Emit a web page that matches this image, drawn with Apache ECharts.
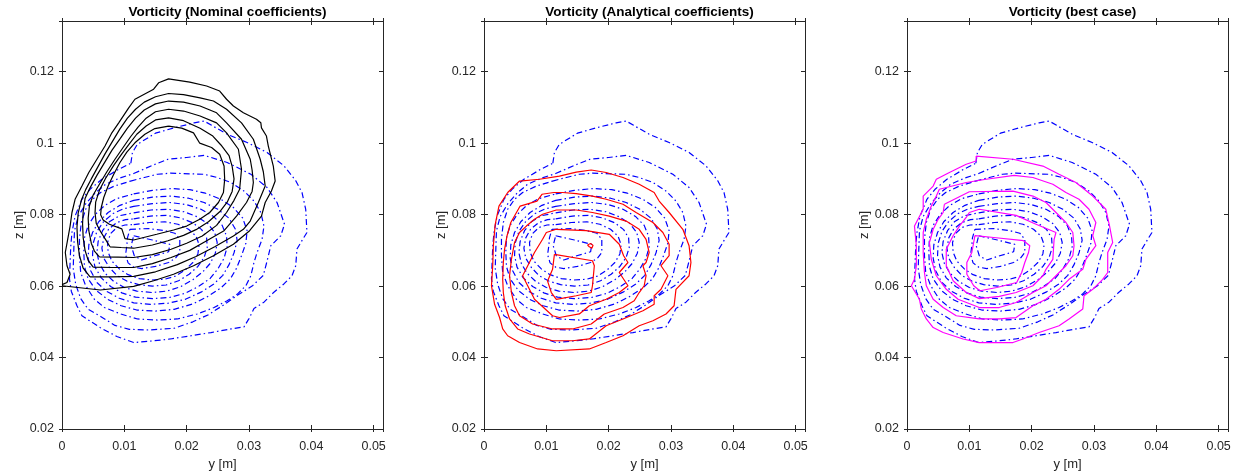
<!DOCTYPE html>
<html>
<head>
<meta charset="utf-8">
<script src="https://cdn.jsdelivr.net/npm/echarts@6/dist/echarts.min.js"></script>
<style>html,body{margin:0;padding:0;background:#fff;}#c{width:1243px;height:476px;}</style>
</head>
<body>
<div id="c"></div>
<script>
// ---- axes / labels ----
const panelTitles = ['Vorticity (Nominal coefficients)', 'Vorticity (Analytical coefficients)', 'Vorticity (best case)'];
const xName = 'y [m]';
const yName = 'z [m]';
const xRange = [0, 0.0515];
const yRange = [0.02, 0.1342];
const xStep = 0.01;
const yStep = 0.02;

// ---- contour lines, values in millimetres: [y, z] ----
// reference field (blue dash-dot, same in every panel), outermost first
const refL1 = [[11.05,94.4],[11.3,97.4],[12.1,99.7],[15.0,102.8],[18.0,104.3],[21.2,105.7],[22.8,106.2],[24.0,105.0],[26.5,102.5],[29.7,100.2],[32.9,97.4],[35.6,93.7],[37.5,89.5],[38.5,86.2],[39.1,81.5],[39.3,75.0],[38.8,73.6],[37.7,70.4],[37.5,65.7],[36.9,62.9],[35.6,60.6],[34.0,58.3],[32.4,55.5],[30.8,53.7],[30.0,50.9],[29.2,48.6],[27.1,48.0],[23.9,47.0],[20.7,46.1],[17.4,45.2],[14.8,44.7],[11.5,44.2],[8.8,45.9],[6.1,48.4],[3.2,51.7],[2.4,54.5],[1.5,58.5],[1.2,62.0],[1.3,66.6],[1.4,71.0],[1.6,75.0],[2.1,79.6],[3.2,84.3],[4.5,87.1],[6.4,89.9],[9.1,92.7],[11.05,94.4]];
const refL2 = [[11.5,91.5],[14.5,93.8],[17.0,95.5],[20.0,96.0],[22.8,96.6],[26.5,94.6],[30.3,91.3],[32.9,87.6],[34.5,83.4],[35.7,77.3],[35.1,74.1],[33.5,71.3],[32.9,67.0],[32.3,63.0],[30.5,60.0],[28.2,57.5],[26.0,54.8],[23.5,52.0],[21.0,50.0],[18.0,48.2],[14.0,47.7],[10.8,47.9],[8.5,49.0],[6.2,51.5],[4.2,53.5],[3.0,56.5],[2.2,60.5],[1.8,65.0],[1.9,70.5],[2.0,75.5],[2.6,79.5],[3.8,83.0],[5.3,86.0],[7.0,88.5],[9.2,90.2],[11.5,91.5]];
const refL3 = [[11.0,89.4],[13.2,90.4],[15.3,91.3],[17.4,91.6],[22.8,91.3],[24.9,90.4],[27.1,89.0],[29.2,86.6],[30.8,83.8],[31.9,80.6],[32.4,76.8],[32.1,73.1],[31.3,69.4],[30.8,66.6],[30.3,62.9],[29.5,60.1],[28.1,57.7],[26.5,55.9],[24.4,54.0],[21.7,52.2],[18.5,50.8],[15.3,50.5],[12.1,50.8],[9.4,52.2],[6.8,54.0],[5.2,56.3],[3.8,60.1],[3.0,63.8],[2.8,68.5],[2.8,73.1],[3.1,77.8],[3.8,81.5],[4.9,84.3],[6.2,86.2],[8.4,88.0],[11.0,89.4]];
const refL4 = [[11.5,85.8],[14.5,86.8],[17.5,87.3],[20.5,87.0],[23.0,86.0],[25.5,84.3],[27.5,82.0],[29.0,79.0],[29.7,75.5],[29.5,72.0],[28.8,68.5],[28.0,65.0],[27.0,62.0],[25.5,59.5],[23.5,57.2],[21.0,55.0],[18.0,53.5],[15.0,53.0],[12.0,53.3],[9.5,54.5],[7.3,56.3],[5.5,58.8],[4.2,62.0],[3.6,65.5],[3.5,69.5],[3.6,73.5],[4.2,77.0],[5.3,80.0],[6.8,82.5],[8.8,84.5],[11.5,85.8]];
const refL5 = [[11.5,84.0],[14.5,84.9],[17.5,85.2],[20.3,84.6],[22.8,83.4],[25.0,81.5],[26.8,79.0],[27.8,76.0],[28.1,72.8],[27.6,69.3],[26.8,66.0],[25.8,63.0],[24.3,60.5],[22.3,58.3],[19.8,56.3],[17.0,55.2],[14.2,54.9],[11.5,55.3],[9.2,56.6],[7.2,58.5],[5.6,61.0],[4.6,64.3],[4.2,67.8],[4.3,71.5],[4.9,75.0],[5.9,78.0],[7.4,80.6],[9.3,82.6],[11.5,84.0]];
const refL6 = [[11.5,82.3],[14.5,83.1],[17.3,83.4],[20.0,82.8],[22.3,81.5],[24.3,79.5],[25.7,77.0],[26.4,74.0],[26.5,71.0],[26.0,67.8],[25.0,64.8],[23.8,62.2],[22.0,60.0],[19.8,58.0],[17.2,56.8],[14.5,56.5],[11.8,56.9],[9.6,58.1],[7.8,59.9],[6.3,62.3],[5.3,65.3],[4.9,68.6],[5.0,72.0],[5.6,75.3],[6.7,78.1],[8.2,80.3],[9.8,81.6],[11.5,82.3]];
const refL7 = [[11.5,80.5],[14.3,81.3],[17.0,81.5],[19.6,80.8],[21.7,79.4],[23.4,77.5],[24.5,75.0],[24.9,72.2],[24.6,69.2],[23.8,66.4],[22.6,64.0],[21.0,61.8],[19.0,59.8],[16.8,58.6],[14.4,58.2],[12.0,58.6],[10.0,59.6],[8.3,61.3],[6.9,63.6],[6.0,66.3],[5.6,69.3],[5.8,72.5],[6.5,75.5],[7.6,78.0],[9.2,79.7],[11.5,80.5]];
const refL8 = [[11.5,78.8],[14.2,79.6],[16.8,79.8],[19.0,79.1],[21.0,77.7],[22.4,75.8],[23.2,73.5],[23.3,70.8],[22.8,68.0],[21.8,65.5],[20.4,63.3],[18.7,61.5],[16.7,60.3],[14.5,60.0],[12.3,60.4],[10.4,61.4],[8.8,63.0],[7.6,65.2],[6.7,67.8],[6.4,70.6],[6.7,73.5],[7.5,76.0],[8.8,77.8],[10.2,78.6],[11.5,78.8]];
const refL9 = [[11.5,77.2],[14.0,77.8],[16.5,78.0],[18.6,77.3],[20.3,75.9],[21.5,74.0],[22.0,71.6],[21.8,69.0],[21.0,66.6],[19.8,64.6],[18.2,62.8],[16.4,61.9],[14.4,61.7],[12.4,62.1],[10.6,63.2],[9.2,64.8],[8.0,67.0],[7.4,69.5],[7.3,72.2],[7.8,74.7],[8.8,76.4],[10.1,77.1],[11.5,77.2]];
const refL10 = [[10.9,75.9],[13.9,76.1],[16.5,75.5],[18.1,74.8],[18.9,73.1],[18.9,69.4],[18.2,67.8],[17.1,66.6],[15.0,65.5],[12.8,64.9],[11.5,65.3],[10.6,66.5],[10.2,68.8],[10.4,71.3],[10.5,73.5],[10.9,75.9]];
const refL11 = [[11.5,74.1],[14.5,72.9],[17.3,71.7],[17.1,69.6],[14.5,68.3],[12.8,67.3],[11.6,68.5],[11.1,71.3],[11.5,74.1]];

// nominal coefficients (black), outermost first
const nomK1 = [[0.0,60.1],[6.14,58.9],[11.5,59.9],[14.7,61.5],[17.9,63.3],[21.1,65.7],[24.3,68.5],[27.5,71.7],[30.1,75.5],[32.0,79.6],[32.6,83.4],[33.6,86.6],[34.2,89.4],[33.9,93.6],[33.1,99.2],[32.8,102.0],[32.0,104.3],[31.9,105.7],[31.2,106.7],[29.1,108.5],[27.5,110.4],[26.4,112.3],[25.3,114.6],[23.2,116.0],[20.5,117.1],[17.1,118.0],[15.5,116.9],[14.7,115.1],[11.7,112.3],[10.7,109.9],[9.1,105.7],[8.0,102.9],[6.9,99.2],[5.6,95.5],[4.3,91.8],[3.2,88.0],[2.1,84.3],[1.6,80.6],[1.3,76.8],[0.53,69.4],[0.8,65.7],[1.3,63.3],[0.8,61.0],[0.0,60.4]];
const nomK2 = [[4.5,62.6],[8.0,62.6],[11.5,62.7],[15.0,64.0],[18.5,66.0],[21.5,68.3],[24.5,71.0],[27.5,74.0],[29.1,75.9],[30.2,78.2],[31.5,83.4],[32.6,88.0],[32.3,92.0],[31.8,95.5],[30.7,101.1],[28.8,105.7],[26.4,109.5],[24.3,111.8],[22.15,112.7],[19.5,113.6],[17.1,113.9],[15.0,113.0],[13.2,111.5],[11.8,109.5],[10.5,107.0],[9.3,104.0],[8.1,100.5],[6.9,97.0],[5.8,93.5],[4.7,90.0],[3.8,87.0],[3.1,84.0],[2.6,80.5],[2.4,76.5],[2.5,72.5],[2.8,68.5],[3.4,65.0],[4.5,62.6]];
const nomK3 = [[5.0,65.3],[8.0,65.2],[11.5,65.2],[14.5,66.3],[17.5,68.0],[20.5,70.0],[23.0,72.5],[26.0,75.5],[28.0,79.6],[29.6,83.4],[30.5,86.5],[30.7,89.0],[30.5,92.5],[30.2,95.5],[28.8,101.1],[26.4,105.7],[24.8,108.5],[22.15,110.4],[19.5,111.5],[17.1,111.8],[15.0,111.0],[13.2,109.3],[11.8,107.0],[10.5,104.2],[9.3,101.2],[8.0,98.0],[6.8,94.5],[5.6,91.0],[4.5,87.5],[3.7,84.5],[3.4,81.0],[3.3,77.5],[3.4,73.5],[3.7,70.0],[4.2,67.2],[5.0,65.3]];
const nomK4 = [[6.0,68.2],[9.0,68.1],[11.5,68.0],[14.5,68.8],[17.5,70.3],[20.0,72.0],[22.5,74.0],[24.8,77.0],[26.4,80.6],[27.6,84.0],[28.5,87.1],[28.8,92.7],[28.3,98.3],[26.4,102.9],[24.8,105.7],[22.15,107.6],[19.5,109.0],[17.1,109.5],[15.0,108.8],[13.5,107.0],[12.2,104.5],[11.0,101.8],[9.8,98.8],[8.5,95.5],[7.2,92.0],[6.0,88.5],[5.0,85.5],[4.4,82.5],[4.2,79.0],[4.3,75.5],[4.7,72.0],[5.2,69.8],[6.0,68.2]];
const nomK5 = [[7.7,71.0],[9.5,70.8],[11.5,70.6],[14.5,71.5],[17.0,72.7],[19.5,74.2],[21.5,75.8],[23.5,78.0],[25.3,80.8],[26.5,83.5],[27.3,86.5],[27.6,90.0],[27.3,93.5],[26.8,96.5],[25.5,99.5],[24.2,102.0],[22.15,104.2],[19.5,106.3],[17.1,107.1],[15.0,106.5],[13.5,104.8],[12.0,102.5],[10.8,99.8],[9.6,97.0],[8.3,93.8],[7.0,90.2],[6.0,86.8],[5.4,83.5],[5.3,80.5],[5.5,77.5],[6.2,75.2],[7.0,73.0],[7.7,71.0]];
const nomK6 = [[17.1,104.8],[19.2,104.2],[21.1,102.9],[22.1,100.0],[24.0,98.8],[25.3,96.9],[26.0,93.6],[26.1,89.9],[25.9,86.2],[25.1,83.4],[23.7,80.6],[22.1,78.7],[20.0,76.8],[17.9,75.7],[15.2,74.5],[11.5,72.9],[10.1,73.3],[9.6,76.0],[7.6,77.3],[6.6,78.5],[6.2,80.0],[6.3,82.0],[6.7,84.8],[7.4,88.0],[8.3,91.3],[9.3,94.6],[10.4,97.5],[11.7,100.1],[13.3,102.5],[14.9,104.1],[17.1,104.8]];

// analytical coefficients (red), outermost first
const anaR1 = [[3.8,86.2],[5.7,89.4],[8.9,89.9],[12.1,90.8],[14.8,91.9],[17.2,92.5],[19.6,91.8],[22.3,90.4],[24.9,88.5],[27.3,86.2],[28.1,83.8],[29.7,80.6],[31.9,75.9],[32.9,71.3],[33.2,66.6],[32.9,62.9],[30.8,59.1],[30.5,54.5],[29.2,52.2],[27.1,50.3],[24.9,48.9],[22.3,46.1],[19.6,44.2],[16.9,42.4],[11.6,41.9],[8.6,42.4],[5.7,44.2],[3.8,46.1],[3.0,48.0],[2.5,51.2],[1.7,54.9],[1.2,60.1],[1.4,65.7],[1.5,71.3],[1.8,77.3],[2.4,82.4],[3.8,86.2]];
const anaR2 = [[11.2,86.2],[12.6,86.2],[14.8,85.9],[17.4,85.2],[19.6,84.3],[22.3,82.9],[24.4,80.6],[27.1,77.8],[28.7,75.0],[29.7,71.7],[29.7,68.5],[28.4,65.7],[29.5,62.9],[28.4,59.1],[27.3,57.3],[27.3,54.9],[25.5,53.1],[22.3,50.8],[19.6,48.9],[16.9,45.2],[14.2,44.7],[11.0,44.7],[7.3,46.6],[5.4,48.0],[4.1,50.8],[3.4,54.5],[3.1,58.2],[3.0,61.9],[3.1,66.6],[3.3,70.3],[3.7,74.1],[4.3,77.8],[5.8,82.4],[8.5,83.8],[9.3,85.7],[11.2,86.2]];
const anaR3 = [[9.4,80.1],[11.6,81.3],[14.8,81.3],[17.4,80.6],[20.1,79.6],[22.8,78.2],[24.9,75.9],[26.0,73.1],[26.5,69.4],[26.0,66.6],[25.5,65.7],[26.0,62.9],[25.7,60.1],[24.9,58.2],[24.1,55.9],[22.3,54.0],[19.3,52.2],[17.2,49.4],[14.2,48.0],[11.0,48.0],[7.8,49.4],[5.7,51.7],[4.9,54.5],[4.4,58.2],[4.1,62.9],[4.4,67.5],[4.9,72.2],[5.7,75.0],[6.8,76.8],[8.1,78.7],[9.4,80.1]];
const anaR4 = [[11.6,75.9],[16.4,75.5],[20.1,74.5],[21.7,71.7],[22.4,68.5],[23.1,66.6],[21.7,63.8],[23.1,60.1],[21.7,58.2],[19.6,56.3],[16.9,54.5],[15.3,52.2],[12.1,51.2],[11.0,51.7],[8.1,56.3],[6.2,62.9],[8.1,69.4],[9.4,73.1],[10.0,75.0],[11.6,75.9]];
const anaR5 = [[11.3,68.9],[17.4,67.1],[17.7,65.7],[17.4,60.1],[17.2,58.2],[14.8,57.3],[11.6,56.3],[10.8,58.2],[10.2,61.4],[11.0,64.7],[11.3,68.9]];
const anaR5b = [[16.6,71.5],[17.1,71.9],[17.5,71.4],[17.3,70.6],[16.9,71.0],[16.6,71.5]];

// best case (magenta), outermost first
const bestM1 = [[11.1,96.4],[17.0,95.5],[21.8,93.6],[24.4,91.3],[27.1,89.0],[29.8,85.2],[31.9,81.5],[32.5,76.8],[33.0,72.2],[32.2,69.4],[32.2,63.8],[31.4,61.9],[29.8,59.1],[28.4,57.3],[28.2,53.6],[26.0,50.8],[24.4,48.9],[21.2,47.0],[18.6,45.2],[17.0,44.2],[11.6,44.2],[9.0,45.2],[5.8,47.0],[4.2,48.4],[3.1,50.8],[2.3,53.6],[2.0,56.3],[0.7,60.1],[1.2,61.9],[1.5,65.7],[1.5,71.3],[1.2,76.8],[2.6,81.5],[2.6,85.2],[4.2,88.0],[4.7,89.9],[6.8,91.8],[9.5,94.1],[11.1,95.0],[11.1,96.4]];
const bestM2 = [[5.2,87.1],[9.5,89.0],[12.7,89.9],[17.2,91.0],[20.2,90.4],[23.4,88.5],[25.5,86.2],[27.6,84.3],[29.2,81.5],[30.3,77.8],[29.8,74.1],[30.3,71.3],[28.7,67.5],[28.2,64.7],[26.0,61.9],[24.4,59.1],[22.3,56.3],[20.2,54.5],[17.5,51.2],[14.8,50.8],[11.6,50.8],[7.9,51.7],[5.8,54.0],[4.2,56.3],[3.1,60.1],[2.8,63.8],[2.6,69.4],[2.6,75.0],[3.1,78.7],[3.9,82.4],[4.7,85.2],[5.2,87.1]];
const bestM3 = [[6.0,82.9],[10.0,86.4],[17.0,86.6],[20.2,85.2],[22.3,83.4],[23.9,80.6],[25.5,77.8],[26.6,75.0],[26.8,71.3],[26.6,68.5],[25.5,65.7],[23.9,62.9],[22.3,60.1],[20.2,58.2],[17.5,55.4],[14.8,54.0],[11.6,54.0],[8.2,56.3],[6.3,59.1],[4.7,62.9],[3.9,67.5],[3.6,72.2],[4.2,75.9],[5.0,78.7],[5.8,80.6],[6.0,82.9]];
const bestM4 = [[10.0,80.6],[11.6,81.5],[17.5,79.8],[20.7,77.3],[23.9,75.0],[23.6,73.1],[23.4,67.5],[22.3,64.7],[21.8,62.9],[20.2,60.1],[17.5,58.2],[14.8,57.1],[11.6,56.5],[9.5,58.2],[7.4,61.5],[6.3,65.7],[6.3,70.3],[7.4,74.1],[8.4,76.8],[9.5,79.2],[10.0,80.6]];
const bestM5 = [[10.9,74.1],[13.9,73.6],[18.7,72.7],[19.7,71.3],[19.5,69.4],[18.9,66.6],[18.4,63.8],[17.6,61.0],[14.4,59.6],[11.7,58.7],[10.7,60.1],[9.6,63.3],[9.6,66.6],[10.4,69.4],[10.9,74.1]];

const refContours = [refL1, refL2, refL3, refL4, refL5, refL6, refL7, refL8, refL9, refL10, refL11];
const panelContours = [
  [nomK1, nomK2, nomK3, nomK4, nomK5, nomK6],
  [anaR1, anaR2, anaR3, anaR4, anaR5, anaR5b],
  [bestM1, bestM2, bestM3, bestM4, bestM5]
];
const panelColors = ['#000000', '#ff0000', '#ff00ff'];

// ---- layout ----
const gridLefts = [62, 484, 907];
const gridTop = 21, gridWidth = 321, gridHeight = 409;
const axisColor = '#262626';
const font = 'Liberation Sans';

function toM(pts) { return pts.map(p => [p[0] / 1000, p[1] / 1000]); }
function tickFmt(step) {
  return v => {
    const k = v / step;
    if (Math.abs(k - Math.round(k)) > 1e-6) return '';
    return String(+v.toFixed(3));
  };
}

const grids = [], xAxes = [], yAxes = [], series = [], titles = [];
gridLefts.forEach((left, g) => {
  grids.push({ left: left, top: gridTop, width: gridWidth, height: gridHeight });
  titles.push({
    text: panelTitles[g], left: left + gridWidth / 2, top: 0, textAlign: 'center',
    textStyle: { fontFamily: font, fontSize: 13.5, fontWeight: 'bold', color: '#000' }
  });
  const common = { gridIndex: g, type: 'value', min: xRange[0], max: xRange[1], interval: xStep, splitLine: { show: false } };
  const line = { show: true, onZero: false, lineStyle: { color: axisColor, width: 1 } };
  xAxes.push(Object.assign({}, common, {
    position: 'bottom', axisLine: line,
    axisTick: { show: true, inside: true, length: 4, lineStyle: { color: axisColor } },
    axisLabel: { show: true, margin: 11, color: axisColor, fontFamily: font, fontSize: 12.5, formatter: tickFmt(xStep) },
    name: xName, nameLocation: 'middle', nameGap: 29,
    nameTextStyle: { fontFamily: font, fontSize: 13, color: axisColor }
  }));
  xAxes.push(Object.assign({}, common, {
    position: 'top', axisLine: line,
    axisTick: { show: true, inside: true, length: 4, lineStyle: { color: axisColor } },
    axisLabel: { show: false }
  }));
  xAxes.push(Object.assign({}, common, {
    position: 'bottom', offset: 0, axisLine: { show: false },
    axisTick: { show: true, inside: false, length: 3, lineStyle: { color: axisColor } },
    axisLabel: { show: false }
  }));
  xAxes.push(Object.assign({}, common, {
    position: 'top', offset: 0, axisLine: { show: false },
    axisTick: { show: true, inside: false, length: 3, lineStyle: { color: axisColor } },
    axisLabel: { show: false }
  }));
  const ycommon = { gridIndex: g, type: 'value', min: yRange[0], max: yRange[1], interval: yStep, splitLine: { show: false } };
  yAxes.push(Object.assign({}, ycommon, {
    position: 'left', axisLine: line,
    axisTick: { show: true, inside: true, length: 4, lineStyle: { color: axisColor } },
    axisLabel: { show: true, margin: 8, color: axisColor, fontFamily: font, fontSize: 12.5, formatter: tickFmt(yStep) },
    name: yName, nameLocation: 'middle', nameGap: 36, nameRotate: 90,
    nameTextStyle: { fontFamily: font, fontSize: 13, color: axisColor }
  }));
  yAxes.push(Object.assign({}, ycommon, {
    position: 'right', axisLine: line,
    axisTick: { show: true, inside: true, length: 4, lineStyle: { color: axisColor } },
    axisLabel: { show: false }
  }));
  yAxes.push(Object.assign({}, ycommon, {
    position: 'left', offset: 0, axisLine: { show: false },
    axisTick: { show: true, inside: false, length: 3, lineStyle: { color: axisColor } },
    axisLabel: { show: false }
  }));
  yAxes.push(Object.assign({}, ycommon, {
    position: 'right', offset: 0, axisLine: { show: false },
    axisTick: { show: true, inside: false, length: 3, lineStyle: { color: axisColor } },
    axisLabel: { show: false }
  }));

  refContours.forEach(c => {
    series.push({
      type: 'line', xAxisIndex: 4 * g, yAxisIndex: 4 * g, data: toM(c),
      showSymbol: false, symbol: 'none', silent: true, z: 2,
      lineStyle: { color: '#0000ff', width: 1.2, type: [6, 3, 1.5, 3] }
    });
  });
  panelContours[g].forEach(c => {
    series.push({
      type: 'line', xAxisIndex: 4 * g, yAxisIndex: 4 * g, data: toM(c),
      showSymbol: false, symbol: 'none', silent: true, z: 3,
      lineStyle: { color: panelColors[g], width: 1.2, type: 'solid' }
    });
  });
});

const chart = echarts.init(document.getElementById('c'), null, { renderer: 'canvas' });
chart.setOption({
  backgroundColor: '#ffffff',
  animation: false,
  title: titles,
  grid: grids,
  xAxis: xAxes,
  yAxis: yAxes,
  series: series
});
</script>
</body>
</html>
